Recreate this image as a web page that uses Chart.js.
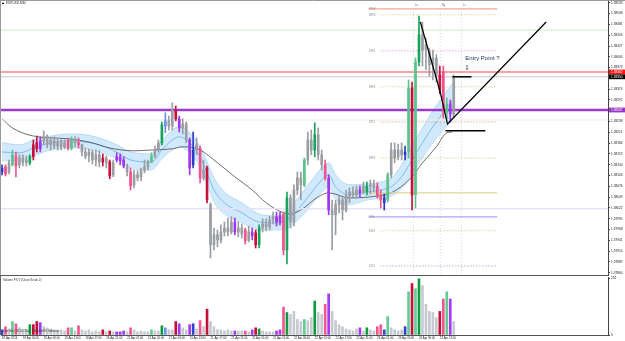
<!DOCTYPE html>
<html>
<head>
<meta charset="utf-8">
<title>EURUSD,M30</title>
<script src="https://cdn.jsdelivr.net/npm/chart.js@4.4.1/dist/chart.umd.min.js"></script>
<style>
  html, body { margin: 0; padding: 0; background: #fff; overflow: hidden; }
  #main { position: absolute; left: 0; top: 0; }
  #vol { position: absolute; left: 0; top: 276px; }
</style>
</head>
<body>
<canvas id="main" width="625" height="276"></canvas>
<canvas id="vol" width="625" height="65"></canvas>
<script>
// time axis labels, one every 6 bars
var xLabels = ['18 Apr 2014', '18 Apr 05:00', '18 Apr 09:00', '18 Apr 13:00', '18 Apr 17:00', '18 Apr 21:00',
  '21 Apr 01:00', '21 Apr 05:00', '21 Apr 09:00', '21 Apr 13:00', '21 Apr 17:00', '21 Apr 21:00',
  '22 Apr 01:00', '22 Apr 05:00', '22 Apr 09:00', '22 Apr 13:00', '22 Apr 17:00', '22 Apr 21:00',
  '23 Apr 01:00', '23 Apr 05:00', '23 Apr 09:00', '23 Apr 13:00'];
var barsPerLabel = 6;

var priceTicks = [1.38535, 1.38508, 1.38481, 1.38454, 1.38427, 1.38400, 1.38373, 1.38346, 1.38319, 1.38292,
  1.38265, 1.38238, 1.38211, 1.38184, 1.38157, 1.38130, 1.38103, 1.38076, 1.38049, 1.38022,
  1.37995, 1.37968, 1.37941, 1.37914, 1.37887, 1.37860];

var opens = [
  1.38122, 1.38125, 1.38112, 1.38130, 1.38152, 1.38130, 1.38147, 1.38135, 1.38135, 1.38150,
  1.38185, 1.38170, 1.38190, 1.38200, 1.38180, 1.38192, 1.38177, 1.38187, 1.38175, 1.38190,
  1.38172, 1.38192, 1.38185, 1.38180, 1.38162, 1.38152, 1.38162, 1.38142, 1.38155, 1.38137,
  1.38147, 1.38137, 1.38105, 1.38142, 1.38150, 1.38142, 1.38127, 1.38112, 1.38080, 1.38105,
  1.38100, 1.38117, 1.38125, 1.38137, 1.38152, 1.38167, 1.38185, 1.38227, 1.38240, 1.38227,
  1.38267, 1.38245, 1.38222, 1.38232, 1.38192, 1.38130, 1.38167, 1.38172, 1.38097, 1.38122,
  1.38030, 1.37930, 1.37955, 1.37942, 1.37962, 1.37972, 1.37962, 1.37987, 1.37962, 1.37972,
  1.37967, 1.37942, 1.37962, 1.37960, 1.37930, 1.37972, 1.37982, 1.37975, 1.37992, 1.38000,
  1.37987, 1.38005, 1.37917, 1.38047, 1.37987, 1.38067, 1.38097, 1.38080, 1.38142, 1.38192,
  1.38167, 1.38205, 1.38155, 1.38130, 1.38097, 1.38017, 1.38005, 1.38030, 1.38042, 1.38017,
  1.38052, 1.38062, 1.38055, 1.38067, 1.38077, 1.38062, 1.38077, 1.38080, 1.38077, 1.38052,
  1.38047, 1.38042, 1.38105, 1.38167, 1.38150, 1.38167, 1.38155, 1.38162, 1.38322, 1.38055,
  1.38387, 1.38455, 1.38417, 1.38412, 1.38380, 1.38397, 1.38355, 1.38362, 1.38262, 1.38282,
  1.38257];
var highs = [
  1.38130, 1.38130, 1.38142, 1.38167, 1.38162, 1.38155, 1.38155, 1.38152, 1.38155, 1.38192,
  1.38202, 1.38200, 1.38215, 1.38205, 1.38197, 1.38200, 1.38195, 1.38195, 1.38192, 1.38197,
  1.38200, 1.38200, 1.38197, 1.38182, 1.38172, 1.38170, 1.38167, 1.38167, 1.38165, 1.38157,
  1.38152, 1.38142, 1.38142, 1.38160, 1.38157, 1.38150, 1.38132, 1.38122, 1.38117, 1.38115,
  1.38122, 1.38142, 1.38142, 1.38160, 1.38177, 1.38192, 1.38237, 1.38260, 1.38252, 1.38285,
  1.38277, 1.38252, 1.38245, 1.38237, 1.38197, 1.38212, 1.38197, 1.38177, 1.38142, 1.38127,
  1.38035, 1.37972, 1.37967, 1.37980, 1.37987, 1.37997, 1.38000, 1.37997, 1.37987, 1.37982,
  1.37972, 1.37977, 1.37972, 1.37967, 1.37980, 1.37995, 1.37995, 1.38002, 1.38012, 1.38012,
  1.38012, 1.38012, 1.38062, 1.38055, 1.38080, 1.38112, 1.38112, 1.38147, 1.38212, 1.38217,
  1.38235, 1.38222, 1.38167, 1.38142, 1.38105, 1.38042, 1.38042, 1.38055, 1.38047, 1.38067,
  1.38072, 1.38075, 1.38077, 1.38077, 1.38087, 1.38087, 1.38092, 1.38092, 1.38085, 1.38067,
  1.38057, 1.38110, 1.38185, 1.38185, 1.38182, 1.38185, 1.38177, 1.38342, 1.38337, 1.38397,
  1.38502, 1.38487, 1.38447, 1.38422, 1.38417, 1.38405, 1.38377, 1.38377, 1.38297, 1.38292,
  1.38355];
var lows = [
  1.38105, 1.38102, 1.38107, 1.38127, 1.38100, 1.38122, 1.38127, 1.38127, 1.38130, 1.38142,
  1.38162, 1.38162, 1.38180, 1.38172, 1.38167, 1.38170, 1.38167, 1.38167, 1.38170, 1.38167,
  1.38167, 1.38175, 1.38172, 1.38152, 1.38145, 1.38137, 1.38132, 1.38127, 1.38125, 1.38127,
  1.38122, 1.38095, 1.38100, 1.38137, 1.38130, 1.38122, 1.38102, 1.38067, 1.38072, 1.38090,
  1.38090, 1.38110, 1.38117, 1.38135, 1.38147, 1.38162, 1.38180, 1.38210, 1.38217, 1.38217,
  1.38240, 1.38212, 1.38207, 1.38185, 1.38105, 1.38122, 1.38155, 1.38085, 1.38092, 1.38035,
  1.37897, 1.37917, 1.37925, 1.37935, 1.37952, 1.37952, 1.37957, 1.37955, 1.37950, 1.37947,
  1.37932, 1.37937, 1.37942, 1.37922, 1.37922, 1.37962, 1.37965, 1.37967, 1.37982, 1.37977,
  1.37980, 1.37905, 1.37882, 1.37972, 1.37977, 1.38055, 1.38042, 1.38075, 1.38130, 1.38155,
  1.38150, 1.38142, 1.38117, 1.38092, 1.38005, 1.37917, 1.37955, 1.38010, 1.37992, 1.38012,
  1.38035, 1.38047, 1.38047, 1.38050, 1.38057, 1.38055, 1.38057, 1.38062, 1.38047, 1.38022,
  1.38017, 1.38037, 1.38097, 1.38135, 1.38142, 1.38142, 1.38142, 1.38147, 1.38017, 1.38022,
  1.38377, 1.38377, 1.38367, 1.38352, 1.38342, 1.38337, 1.38307, 1.38247, 1.38242, 1.38237,
  1.38247];
var closes = [
  1.38112, 1.38107, 1.38135, 1.38155, 1.38127, 1.38147, 1.38135, 1.38142, 1.38150, 1.38180,
  1.38170, 1.38190, 1.38202, 1.38180, 1.38192, 1.38177, 1.38187, 1.38175, 1.38185, 1.38172,
  1.38192, 1.38185, 1.38180, 1.38162, 1.38152, 1.38162, 1.38142, 1.38155, 1.38137, 1.38147,
  1.38135, 1.38102, 1.38135, 1.38150, 1.38140, 1.38127, 1.38112, 1.38077, 1.38105, 1.38097,
  1.38117, 1.38125, 1.38137, 1.38152, 1.38167, 1.38185, 1.38230, 1.38240, 1.38227, 1.38267,
  1.38245, 1.38222, 1.38232, 1.38192, 1.38122, 1.38167, 1.38180, 1.38097, 1.38117, 1.38042,
  1.37930, 1.37955, 1.37942, 1.37962, 1.37972, 1.37962, 1.37987, 1.37962, 1.37972, 1.37957,
  1.37940, 1.37962, 1.37952, 1.37930, 1.37972, 1.37982, 1.37975, 1.37992, 1.38000, 1.37987,
  1.38002, 1.37917, 1.38047, 1.37987, 1.38067, 1.38097, 1.38080, 1.38142, 1.38192, 1.38167,
  1.38205, 1.38155, 1.38130, 1.38097, 1.38017, 1.38005, 1.38030, 1.38042, 1.38017, 1.38052,
  1.38062, 1.38055, 1.38067, 1.38060, 1.38062, 1.38077, 1.38080, 1.38072, 1.38052, 1.38042,
  1.38035, 1.38105, 1.38167, 1.38147, 1.38167, 1.38155, 1.38162, 1.38322, 1.38055, 1.38387,
  1.38455, 1.38417, 1.38430, 1.38380, 1.38397, 1.38355, 1.38317, 1.38262, 1.38282, 1.38257,
  1.38350];
var volumes = [
  23, 37, 27, 60, 50, 32, 23, 27, 46, 46,
  60, 55, 37, 32, 27, 23, 18, 23, 18, 32,
  32, 18, 41, 23, 18, 23, 14, 18, 14, 23,
  14, 18, 14, 14, 14, 18, 14, 32, 23, 14,
  18, 14, 14, 23, 18, 18, 41, 32, 23, 23,
  60, 50, 32, 23, 46, 50, 27, 64, 37, 115,
  60, 37, 23, 23, 18, 23, 18, 18, 18, 18,
  18, 14, 23, 32, 27, 18, 14, 14, 14, 18,
  23, 124, 100, 92, 105, 69, 60, 69, 64, 78,
  151, 100, 92, 137, 183, 105, 64, 46, 37, 27,
  23, 18, 27, 32, 18, 32, 23, 18, 37, 46,
  23, 82, 32, 23, 18, 23, 37, 192, 229, 206,
  250, 220, 137, 105, 100, 78, 105, 160, 192, 160,
  60];
// volume class of each bar: n neutral, G up, g weak up, R down, p weak down, v climax, B/b no demand
var barClass = ('BpngpnnnGR' + 'Rvnnnnnnnp' + 'gnpnnnnnnR' + 'nRnvvvnpnn' + 'nnngnnGbnn' +
  'RvnnvBnpnR' + 'nnnnnnnvnn' + 'pnvRGnnnnv' + 'vpGnnnngnn' + 'Gnnpvnnnnn' +
  'nnnvnGnnpp' + 'BgnnnnBgRg' + 'GnnnnnRpgv' + 'n').split('');

// slow moving average
var maIdx = [0, 3, 9, 19, 25, 31, 38, 43, 49, 52, 57, 62, 67, 72, 76, 81, 83, 86, 91, 94, 100, 108, 112, 118, 121, 125, 128, 129.6];
var maVal = [1.38245, 1.38222, 1.38202, 1.38195, 1.38187, 1.38172, 1.38165, 1.38167, 1.38170, 1.38175,
  1.38167, 1.38135, 1.38100, 1.38067, 1.38035, 1.38010, 1.38007, 1.38017, 1.38050, 1.38060,
  1.38047, 1.38052, 1.38060, 1.38100, 1.38135, 1.38175, 1.38210, 1.38212];

// ribbon (fast average with its envelope)
var ribIdx = [0, 5, 10, 14, 19, 24, 28, 33, 37, 43, 46, 49, 51, 54, 57, 59, 61, 64, 69, 74,
  79, 81, 85, 89, 92, 94, 96, 100, 105, 109, 112, 115, 118, 121, 124, 127, 130];
var ribMid = [1.38162, 1.38160, 1.38175, 1.38185, 1.38190, 1.38187, 1.38180, 1.38162, 1.38142, 1.38137,
  1.38167, 1.38192, 1.38200, 1.38185, 1.38150, 1.38110, 1.38067, 1.38035, 1.38010, 1.37987,
  1.37985, 1.37987, 1.38017, 1.38060, 1.38092, 1.38105, 1.38075, 1.38055, 1.38062, 1.38067,
  1.38075, 1.38100, 1.38142, 1.38185, 1.38225, 1.38260, 1.38292];
var ribUp = [1.38185, 1.38180, 1.38195, 1.38202, 1.38207, 1.38205, 1.38197, 1.38180, 1.38162, 1.38157,
  1.38190, 1.38217, 1.38225, 1.38210, 1.38175, 1.38137, 1.38097, 1.38062, 1.38035, 1.38007,
  1.38002, 1.38007, 1.38045, 1.38090, 1.38122, 1.38135, 1.38105, 1.38080, 1.38082, 1.38087,
  1.38097, 1.38130, 1.38177, 1.38222, 1.38265, 1.38302, 1.38337];
var ribLo = [1.38140, 1.38140, 1.38155, 1.38167, 1.38172, 1.38170, 1.38162, 1.38145, 1.38122, 1.38117,
  1.38145, 1.38167, 1.38175, 1.38160, 1.38125, 1.38082, 1.38037, 1.38007, 1.37985, 1.37967,
  1.37967, 1.37967, 1.37990, 1.38030, 1.38062, 1.38075, 1.38045, 1.38030, 1.38042, 1.38047,
  1.38052, 1.38070, 1.38107, 1.38147, 1.38185, 1.38217, 1.38247];

// pivot levels of the current session
var levelNames = ['PDH', 'MR3', 'DR2', 'MR2', 'DR1', 'MR1', '', 'PDL', 'MS1', 'DS1'];
var levelPrices = [1.38520, 1.38505, 1.38415, 1.38325, 1.38237, 1.38147, 1.38060, 1.38000, 1.37965, 1.37877];
var levelFrom = 105.5, levelTo = 142.5;

var askPrice = 1.38362, bidPrice = 1.38350, markPrice = 1.38267;
var guidePrices = [1.38467, 1.38242, 1.38020];

var sessionIdx = [118.4, 126.1, 132.2];
var sessionNames = ['Lo', 'Ny', 'Lc'];

// hand drawn lines
var trendIdx = [120.4, 126.1, 128.2, 156.6];
var trendPrice = [1.38487, 1.38312, 1.38232, 1.38487];
var entryFrom = [129.6, 127.6], entryTo = [135.1, 139.1], entryPrice = [1.38350, 1.38215];

var X_MIN = -0.3, X_MAX = 174.4;
var Y_MIN = 1.378545, Y_MAX = 1.385395;
var FONT = '"Liberation Sans", Arial, sans-serif';

var candleColor = { n: '#9a9ea3', G: '#17a35c', g: '#5cc28c', R: '#c8103c', p: '#f0528b', v: '#a036f0', B: '#2a3acb', b: '#6f8ff0' };
var volColor = { n: '#c6cad0', G: '#0c9b40', g: '#63cb95', R: '#c40f3a', p: '#f2588d', v: '#a33cf2', B: '#3040d2', b: '#7395f2' };

function flat(x0, x1, p) { return [{ x: x0, y: p }, { x: x1, y: p }]; }
function lineSet(data, color, width, dash, order) {
  return { type: 'line', data: data, borderColor: color, borderWidth: width, borderDash: dash || [],
    pointRadius: 0, fill: false, tension: 0, order: order };
}

var ds = [];
ds.push({ type: 'line', data: ribIdx.map(function(x, i) { return { x: x, y: ribUp[i] }; }),
  borderColor: '#a8d2f5', borderWidth: 0.8, backgroundColor: 'rgba(198,227,251,0.8)', fill: '+1',
  pointRadius: 0, cubicInterpolationMode: 'monotone', order: 10 });
ds.push({ type: 'line', data: ribIdx.map(function(x, i) { return { x: x, y: ribLo[i] }; }),
  borderColor: '#a8d2f5', borderWidth: 0.8, fill: false,
  pointRadius: 0, cubicInterpolationMode: 'monotone', order: 10 });
ds.push({ type: 'line', data: ribIdx.map(function(x, i) { return { x: x, y: ribMid[i] }; }),
  borderColor: '#6aaee9', borderWidth: 0.8, fill: false,
  pointRadius: 0, cubicInterpolationMode: 'monotone', order: 9 });
ds.push({ type: 'line', data: maIdx.map(function(x, i) { return { x: x, y: maVal[i] }; }),
  borderColor: '#4a4a4a', borderWidth: 0.8, fill: false,
  pointRadius: 0, cubicInterpolationMode: 'monotone', order: 8 });

var guideColors = ['#c9efc3', '#efebd9', '#e6e2fa'];
guidePrices.forEach(function(p, i) { ds.push(lineSet(flat(X_MIN, X_MAX, p), guideColors[i], i === 2 ? 1.5 : 1, null, 7)); });
ds.push(lineSet(flat(X_MIN, X_MAX, bidPrice), '#c8c8c8', 1, null, 7));
ds.push(lineSet(flat(X_MIN, X_MAX, askPrice), '#ff8080', 1.4, null, 7));
ds.push(lineSet(flat(X_MIN, X_MAX, markPrice), '#9a38cc', 2.5, null, 7));

var levelStyle = {
  PDH: ['#f5a690', 1.2, null], MR3: ['#c9c667', 1, [1, 2]], DR2: ['#f08a8a', 1, [1, 2]],
  MR2: ['#c9c270', 1, [1, 2]], DR1: ['#f08a8a', 1, [1, 2]], MR1: ['#c9c270', 1, [1, 2]],
  '': ['#dcd88e', 1.2, null], PDL: ['#aaa6ec', 1.2, null], MS1: ['#c9c270', 1, [1, 2]], DS1: ['#8d8ee6', 1, [1, 2]]
};
levelPrices.forEach(function(p, i) {
  var st = levelStyle[levelNames[i]];
  var from = st[2] ? levelFrom + 3.4 : levelFrom;
  ds.push(lineSet(flat(from, levelTo, p), st[0], st[1], st[2], 7));
});
sessionIdx.forEach(function(x) {
  ds.push(lineSet([{ x: x, y: 1.38527 }, { x: x, y: Y_MIN }], '#c8c8c8', 0.8, [1, 2], 7));
});

ds.push({ type: 'bar', data: highs.map(function(h, i) { return { x: i, y: [lows[i], h] }; }),
  backgroundColor: barClass.map(function(c) { return candleColor[c]; }),
  barThickness: 1, grouped: false, order: 3 });
ds.push({ type: 'bar', data: opens.map(function(o, i) { return { x: i, y: [o, closes[i]] }; }),
  backgroundColor: barClass.map(function(c) { return candleColor[c]; }),
  barThickness: 2, minBarLength: 1, grouped: false, order: 2 });

ds.push(lineSet(trendIdx.map(function(x, i) { return { x: x, y: trendPrice[i] }; }), '#000', 1.2, null, 1));
entryPrice.forEach(function(p, i) { ds.push(lineSet(flat(entryFrom[i], entryTo[i], p), '#000', 1.5, null, 1)); });

var mainDeco = {
  id: 'mainDeco',
  afterDatasetsDraw: function(chart) {
    var ctx = chart.ctx, x = chart.scales.x, y = chart.scales.y;
    ctx.save();
    ctx.textBaseline = 'middle';
    ctx.textAlign = 'left';
    ctx.font = '3px ' + FONT;
    ctx.fillStyle = '#8b8b9c';
    levelNames.forEach(function(n, i) {
      if (n) ctx.fillText(n, x.getPixelForValue(levelFrom) + 0.5, y.getPixelForValue(levelPrices[i]) + 0.5);
    });
    ctx.fillStyle = '#777';
    sessionNames.forEach(function(n, i) {
      ctx.fillText(n, x.getPixelForValue(sessionIdx[i]) + 1.5, y.getPixelForValue(1.38530));
    });
    ctx.fillStyle = '#1f2c5a';
    ctx.font = '6px ' + FONT;
    ctx.fillText('Entry Point ?', x.getPixelForValue(133.3), y.getPixelForValue(1.38397));
    ctx.font = '7px "DejaVu Sans"';
    ctx.fillStyle = '#333';
    ctx.textAlign = 'center';
    ctx.fillText('\u21e9', x.getPixelForValue(133.9), y.getPixelForValue(1.38372));
    ctx.restore();
  },
  afterDraw: function(chart) {
    var ctx = chart.ctx, a = chart.chartArea, y = chart.scales.y;
    ctx.save();
    ctx.lineWidth = 1;
    ctx.strokeStyle = '#9a9a9a';
    ctx.beginPath();
    ctx.moveTo(0, 0.5); ctx.lineTo(625, 0.5);
    ctx.moveTo(0.5, 0); ctx.lineTo(0.5, 276);
    ctx.stroke();
    ctx.strokeStyle = '#555';
    ctx.beginPath();
    ctx.moveTo(0, a.bottom + 0.5); ctx.lineTo(a.right, a.bottom + 0.5);
    ctx.stroke();
    ctx.font = '3.2px ' + FONT;
    ctx.textBaseline = 'middle';
    ctx.textAlign = 'left';
    [[askPrice, '#ff1010'], [bidPrice, '#000000'], [markPrice, '#9a35c8']].forEach(function(b) {
      var py = y.getPixelForValue(b[0]);
      ctx.fillStyle = b[1];
      ctx.fillRect(a.right + 1, py - 2.4, 16, 4.8);
      ctx.fillStyle = '#fff';
      ctx.fillText(b[0].toFixed(5), a.right + 3, py);
    });
    ctx.fillStyle = '#111';
    ctx.fillRect(2, 2.8, 2, 1.3);
    ctx.fillStyle = '#333';
    ctx.font = '3.1px ' + FONT;
    ctx.fillText('EURUSD,M30', 6, 3.6);
    ctx.restore();
  }
};

new Chart(document.getElementById('main'), {
  type: 'bar',
  data: { datasets: ds },
  options: {
    responsive: false,
    animation: false,
    layout: { padding: { top: 1, bottom: 1, left: 1, right: 0 } },
    plugins: { legend: { display: false }, tooltip: { enabled: false } },
    scales: {
      x: { type: 'linear', min: X_MIN, max: X_MAX, offset: false, display: false },
      y: {
        position: 'right', min: Y_MIN, max: Y_MAX,
        afterBuildTicks: function(s) { s.ticks = priceTicks.map(function(v) { return { value: v }; }); },
        afterFit: function(s) { s.width = 17; s.paddingTop = 0; s.paddingBottom = 0; },
        ticks: { autoSkip: false, padding: 1, color: '#222', font: { size: 3.2, family: FONT },
          callback: function(v) { return v.toFixed(5); } },
        grid: { drawOnChartArea: false, drawTicks: true, tickLength: 2, color: '#444' },
        border: { display: true, color: '#444', width: 1 }
      }
    }
  },
  plugins: [mainDeco]
});

var volDeco = {
  id: 'volDeco',
  afterDraw: function(chart) {
    var ctx = chart.ctx;
    ctx.save();
    ctx.strokeStyle = '#666';
    ctx.lineWidth = 1;
    ctx.beginPath();
    ctx.moveTo(0.5, 0); ctx.lineTo(0.5, chart.chartArea.bottom);
    ctx.stroke();
    ctx.fillStyle = '#333';
    ctx.font = '3px ' + FONT;
    ctx.textBaseline = 'middle';
    ctx.fillText('Volume FX V (Chart Scale 2)', 3, 4);
    ctx.fillText('Like Me | 2014 Chart | VolumeFX Indicator', 3, 55.5);
    ctx.restore();
  }
};

new Chart(document.getElementById('vol'), {
  type: 'bar',
  data: {
    datasets: [{
      data: volumes.map(function(v, i) { return { x: i, y: v }; }),
      backgroundColor: barClass.map(function(c) { return volColor[c]; }),
      barThickness: 2, grouped: false
    }]
  },
  options: {
    responsive: false,
    animation: false,
    layout: { padding: { top: 1, bottom: 0, left: 1, right: 0 } },
    plugins: { legend: { display: false }, tooltip: { enabled: false } },
    scales: {
      x: {
        type: 'linear', min: X_MIN, max: X_MAX, offset: false,
        afterBuildTicks: function(s) { s.ticks = xLabels.map(function(l, i) { return { value: i * barsPerLabel }; }); },
        afterFit: function(s) { s.height = 6; s.paddingLeft = 0; s.paddingRight = 0; },
        ticks: { autoSkip: false, maxRotation: 0, minRotation: 0, align: 'start', padding: 0.5,
          color: '#222', font: { size: 2.8, family: FONT },
          callback: function(v) { return xLabels[Math.round(v / barsPerLabel)]; } },
        grid: { drawOnChartArea: false, drawTicks: true, tickLength: 1, color: '#555' },
        border: { display: true, color: '#555', width: 1 }
      },
      y: {
        position: 'right', min: 0, max: 258,
        afterBuildTicks: function(s) { s.ticks = [{ value: 0 }, { value: 252 }]; },
        afterFit: function(s) { s.width = 17; s.paddingTop = 0; s.paddingBottom = 0; },
        ticks: { autoSkip: false, padding: 1, color: '#222', font: { size: 3.2, family: FONT } },
        grid: { drawOnChartArea: false, drawTicks: true, tickLength: 2, color: '#444' },
        border: { display: true, color: '#444', width: 1 }
      }
    }
  },
  plugins: [volDeco]
});
</script>
</body>
</html>
